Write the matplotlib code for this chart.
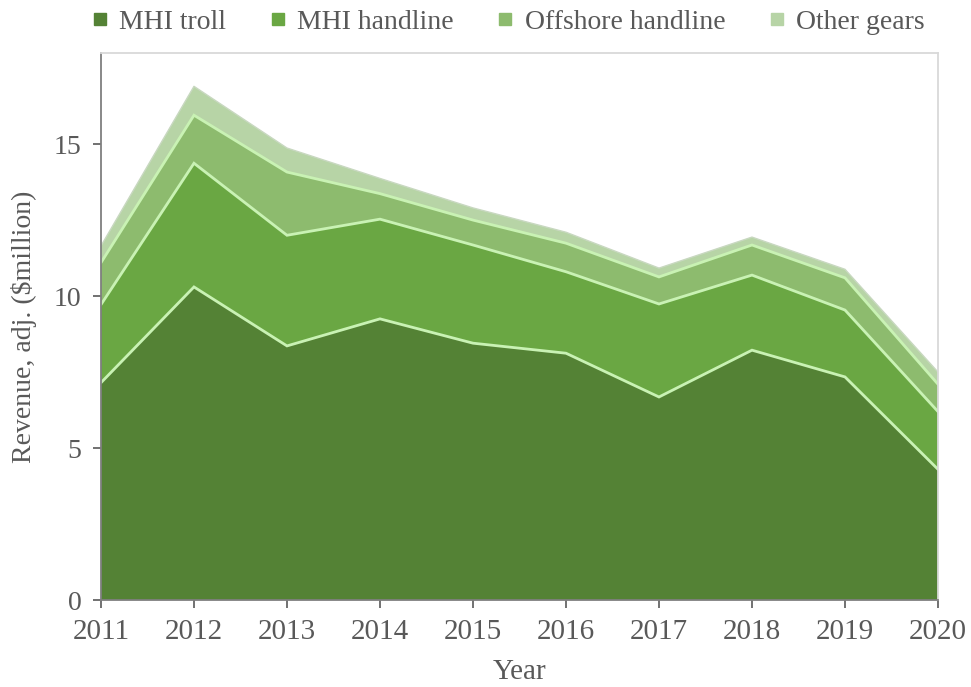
import matplotlib
matplotlib.use("Agg")
import matplotlib.pyplot as plt
import numpy as np
from matplotlib.lines import Line2D

years = [2011, 2012, 2013, 2014, 2015, 2016, 2017, 2018, 2019, 2020]
series_names = ["MHI troll", "MHI handline", "Offshore handline", "Other gears"]
mhi_troll = [7.15, 10.30, 8.36, 9.25, 8.45, 8.12, 6.68, 8.22, 7.34, 4.30]
mhi_handline = [2.57, 4.07, 3.64, 3.28, 3.23, 2.68, 3.06, 2.47, 2.20, 1.90]
offshore_handline = [1.38, 1.58, 2.08, 0.84, 0.82, 0.94, 0.89, 0.99, 1.06, 0.90]
other_gears = [0.55, 0.95, 0.79, 0.50, 0.40, 0.36, 0.29, 0.26, 0.28, 0.40]
y_ticks = [0, 5, 10, 15]

colors = ["#548235", "#6aa743", "#8dbb6e", "#b7d4a6"]
edge_color = "#c9f2b4"
text_color = "#595959"

plt.rcParams['font.family'] = ['Liberation Serif', 'DejaVu Serif']

fig = plt.figure(figsize=(9.71, 6.87), dpi=100)
ax = fig.add_axes([0.104, 0.1266, 0.862, 0.7964])

data = [mhi_troll, mhi_handline, offshore_handline, other_gears]
ax.stackplot(years, *data, colors=colors, labels=series_names, linewidth=0)

cum = np.cumsum(np.array(data), axis=0)
for i in range(3):
    ax.plot(years, cum[i], color=edge_color, linewidth=2.0, solid_joinstyle='miter')
ax.plot(years, cum[3], color="#c8d8c0", linewidth=1.0)

ax.set_xlim(years[0], years[-1])
ax.set_ylim(0, 18)
ax.set_xticks(years)
ax.set_yticks(y_ticks)
ax.tick_params(axis='both', colors=text_color, length=6, width=1.2, direction='out')
ax.tick_params(axis='x', labelsize=21, pad=8)
ax.tick_params(axis='y', labelsize=20, pad=8)
for lbl in ax.get_xticklabels() + ax.get_yticklabels():
    lbl.set_color(text_color)

for side in ['left', 'bottom']:
    ax.spines[side].set_color("#7f7f7f")
    ax.spines[side].set_linewidth(1.3)
for side in ['top', 'right']:
    ax.spines[side].set_color("#d9d9d9")
    ax.spines[side].set_linewidth(1.3)

ax.set_xlabel("Year", fontsize=21, color=text_color, labelpad=10)
ax.set_ylabel("Revenue, adj. ($million)", fontsize=20, color=text_color, labelpad=12)

proxies = [Line2D([0], [0], marker='s', linestyle='none', markersize=8,
                  markerfacecolor=c, markeredgecolor=c) for c in colors]
leg = fig.legend(proxies, series_names, loc='center', bbox_to_anchor=(0.522, 0.968),
                 ncol=4, frameon=False, fontsize=20, handletextpad=0.3,
                 columnspacing=1.45, handlelength=0.8)
for t in leg.get_texts():
    t.set_color(text_color)

fig.savefig("out.png", dpi=100, facecolor="white")
